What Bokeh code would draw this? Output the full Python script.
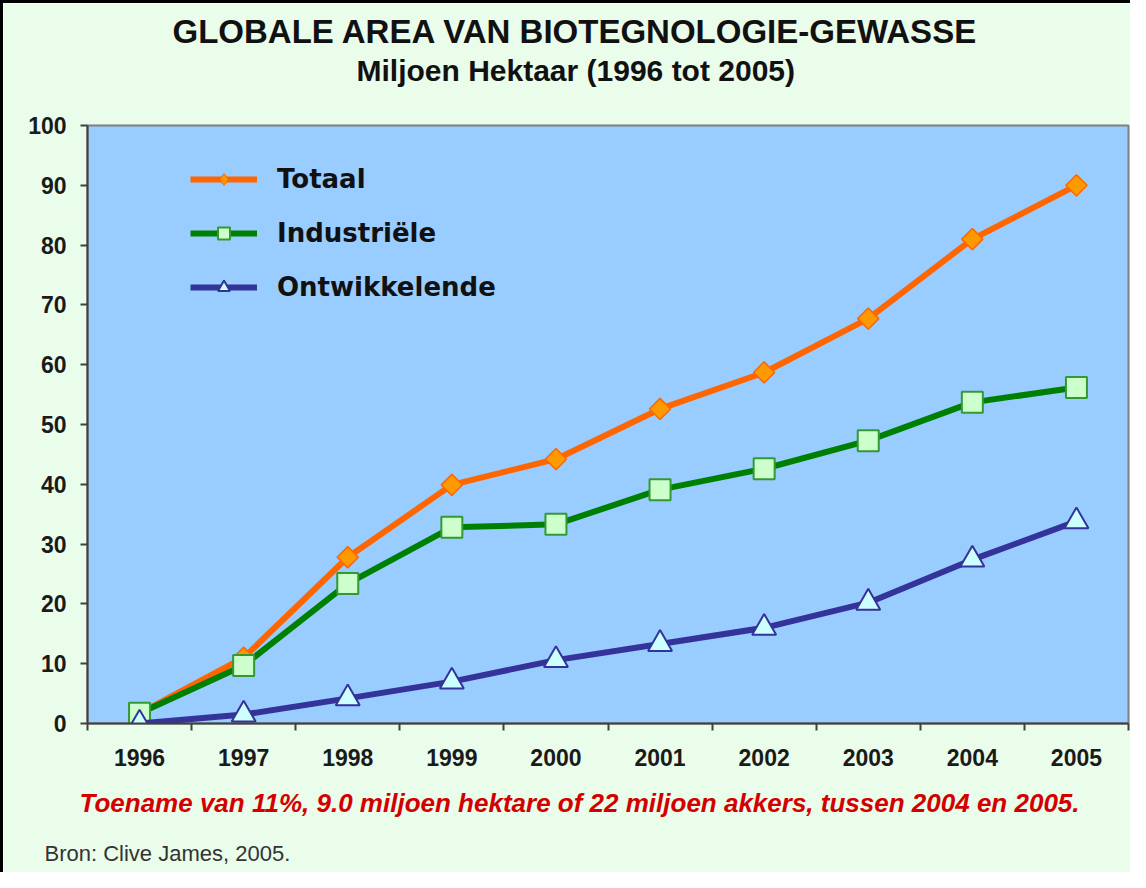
import math
from bokeh.plotting import figure
from bokeh.layouts import row, column
from bokeh.models import FixedTicker, Title, Spacer
from bokeh.embed import file_html
from bokeh.resources import INLINE

# ---- data ----
years = [1996, 1997, 1998, 1999, 2000, 2001, 2002, 2003, 2004, 2005]
totaal = [1.7, 11.0, 27.8, 39.9, 44.2, 52.6, 58.7, 67.7, 81.0, 90.0]
industriele = [1.7, 9.7, 23.4, 32.8, 33.3, 39.1, 42.6, 47.3, 53.7, 56.2]
ontwikkelende = [0.0, 1.5, 4.2, 7.0, 10.6, 13.3, 16.0, 20.2, 27.4, 33.8]
y_ticks = [0, 10, 20, 30, 40, 50, 60, 70, 80, 90, 100]

title_text = "GLOBALE AREA VAN BIOTEGNOLOGIE-GEWASSE"
subtitle_text = "Miljoen Hektaar (1996 tot 2005)"
note_text = "Toename van 11%, 9.0 miljoen hektare of 22 miljoen akkers, tussen 2004 en 2005."
source_text = "Bron: Clive James, 2005."

# ---- layout ----
BORDER = 3
W, H = 1130 - BORDER, 872 - BORDER
TOP, LEFT, FRAME_H = 125 - BORDER, 87 - BORDER, 598

p = figure(width=W, height=H, output_backend="svg", toolbar_location=None, title=None,
           x_range=(1995.5, 2005.5), y_range=(0, 100),
           min_border_left=LEFT, min_border_top=TOP, min_border_right=2,
           min_border_bottom=H - TOP - FRAME_H,
           background_fill_color="#99CCFF", border_fill_color="#EAFCEA")
p.grid.visible = False
p.outline_line_color = "#7f7f7f"
p.outline_line_width = 2

# x axis: labels at centres, tick marks at boundaries
p.xaxis.ticker = FixedTicker(ticks=years,
                             minor_ticks=[y - 0.5 for y in years] + [years[-1] + 0.5])
p.xaxis.major_tick_out = 0
p.xaxis.major_tick_in = 0
p.xaxis.minor_tick_out = 7
p.xaxis.minor_tick_in = 0
p.xaxis.minor_tick_line_color = "#404040"
p.xaxis.minor_tick_line_width = 2
p.xaxis.major_label_standoff = 18

p.yaxis.ticker = FixedTicker(ticks=y_ticks, minor_ticks=[])
p.yaxis.major_tick_out = 7
p.yaxis.major_tick_in = 0
p.yaxis.major_label_standoff = 14
p.yaxis.major_tick_line_color = "#404040"
p.yaxis.major_tick_line_width = 2

for ax in (p.xaxis, p.yaxis):
    ax.axis_line_color = "#404040"
    ax.axis_line_width = 2
    ax.major_label_text_font = "Liberation Sans"
    ax.major_label_text_font_style = "bold"
    ax.major_label_text_font_size = "23px"
    ax.major_label_text_color = "#1a1a1a"

# ---- series ----
p.line(years, totaal, line_color="#FF6600", line_width=6, legend_label="Totaal")
# small diamond under each marker: gives the legend its diamond symbol
p.scatter(years, totaal, marker="diamond", size=18,
          fill_color="#FF9900", line_color="#FF6600", line_width=1, legend_label="Totaal")
p.scatter(years, totaal, marker="square", angle=math.pi / 4, size=15,
          fill_color="#FF9900", line_color="#FF6600", line_width=1.5)

p.line(years, industriele, line_color="#008000", line_width=6, legend_label="Industriële")
p.scatter(years, industriele, marker="square", size=21,
          fill_color="#CCFFCC", line_color="#339933", line_width=2, legend_label="Industriële")

p.line(years, ontwikkelende, line_color="#333399", line_width=6, legend_label="Ontwikkelende")
p.scatter(years, ontwikkelende, marker="triangle", size=24,
          fill_color="#CCFFFF", line_color="#333399", line_width=2, legend_label="Ontwikkelende")

lg = p.legend[0]
lg.location = (103, 421)
lg.background_fill_alpha = 0
lg.border_line_alpha = 0
lg.label_text_font = "DejaVu Sans"
lg.label_text_font_style = "bold"
lg.label_text_font_size = "26px"
lg.label_text_color = "#111111"
lg.glyph_width = 67
lg.glyph_height = 30
lg.label_height = 30
lg.label_standoff = 20
lg.spacing = 24
lg.padding = 0
lg.margin = 0

# ---- titles (above: first added is nearest the frame) ----
p.add_layout(Title(text=" ", text_font_size="10px", standoff=24), "above")  # spacer
p.add_layout(Title(text=subtitle_text, align="left", offset=269, standoff=4,
                   text_font="Liberation Sans", text_font_style="bold",
                   text_font_size="30px", text_color="#111111"), "above")
p.add_layout(Title(text=title_text, align="left", offset=85, standoff=0,
                   text_font="Liberation Sans", text_font_style="bold",
                   text_font_size="33px", text_color="#111111"), "above")

# ---- notes below the axis ----
p.add_layout(Title(text=note_text, align="left", offset=-8, standoff=34,
                   text_font="Liberation Sans", text_font_style="bold italic",
                   text_font_size="26px", text_color="#D40000"), "below")
p.add_layout(Title(text=source_text, align="left", offset=-43, standoff=8,
                   text_font="Liberation Sans", text_font_style="normal",
                   text_font_size="22px", text_color="#333333"), "below")

# ---- black edge on the left and top, as in the reference ----
left_edge = Spacer(width=BORDER, height=H + BORDER, styles={"background-color": "#000000"})
top_edge = Spacer(width=W, height=BORDER, styles={"background-color": "#000000"})
layout = row(left_edge, column(top_edge, p, spacing=0), spacing=0)

open("out.html", "w").write(file_html(layout, INLINE))
